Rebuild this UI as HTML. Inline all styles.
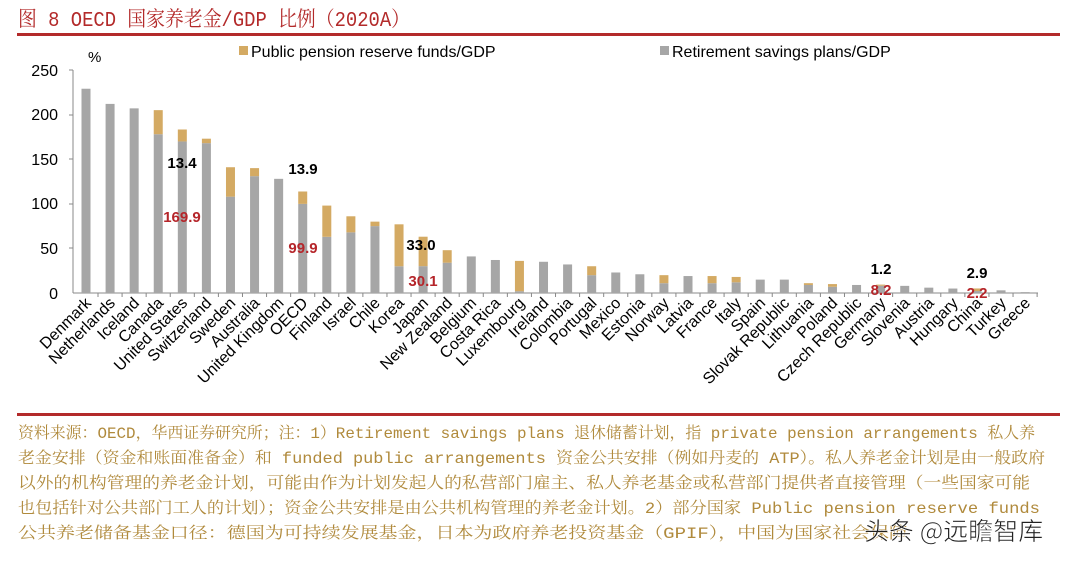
<!DOCTYPE html>
<html><head><meta charset="utf-8"><style>
html,body{margin:0;padding:0;background:#fff;}
body{width:1080px;height:557px;overflow:hidden;position:relative;}
</style></head><body>
<svg width="1080" height="557" xmlns="http://www.w3.org/2000/svg">
<text x="18" y="26" font-family="Liberation Mono, Noto Serif CJK SC, serif" font-size="21" fill="#b32a2a" textLength="392" lengthAdjust="spacingAndGlyphs">图 8  OECD 国家养老金/GDP 比例（2020A）</text>
<rect x="17" y="33" width="1043" height="3" fill="#b32a2a"/>
<g font-family="Liberation Sans, Arial, sans-serif" font-size="16" fill="#000" text-anchor="end">
<text x="58" y="76">250</text><text x="58" y="120">200</text><text x="58" y="165">150</text><text x="58" y="209">100</text><text x="58" y="254">50</text><text x="58" y="299">0</text>
</g>
<text x="88" y="62" font-family="Liberation Sans, sans-serif" font-size="15">%</text>
<line x1="73" y1="70" x2="73" y2="293" stroke="#888" stroke-width="1"/>
<g stroke="#888"><line x1="69" y1="70" x2="73" y2="70"/><line x1="69" y1="115" x2="73" y2="115"/><line x1="69" y1="159" x2="73" y2="159"/><line x1="69" y1="204" x2="73" y2="204"/><line x1="69" y1="248" x2="73" y2="248"/></g>
<line x1="73" y1="293" x2="1038" y2="293" stroke="#888"/>
<rect x="239" y="46" width="9" height="9" fill="#d4aa63"/>
<text x="251" y="57" font-family="Liberation Sans, sans-serif" font-size="16">Public pension reserve funds/GDP</text>
<rect x="660" y="46" width="9" height="9" fill="#a6a6a6"/>
<text x="672" y="57" font-family="Liberation Sans, sans-serif" font-size="16">Retirement savings plans/GDP</text>
<g id="bars"></g>
<g id="labels" font-family="Liberation Sans, Arial, sans-serif" font-size="16" fill="#000"></g>
<g font-family="Liberation Sans, Arial, sans-serif" font-size="15" font-weight="bold" text-anchor="middle">
<text x="182" y="168" fill="#000">13.4</text><text x="182" y="222" fill="#b5252a">169.9</text>
<text x="303" y="174" fill="#000">13.9</text><text x="303" y="253" fill="#b5252a">99.9</text>
<text x="421" y="250" fill="#000">33.0</text><text x="423" y="286" fill="#b5252a">30.1</text>
<text x="881" y="274" fill="#000">1.2</text><text x="881" y="295" fill="#b5252a">8.2</text>
<text x="977" y="278" fill="#000">2.9</text><text x="977" y="298" fill="#b5252a">2.2</text>
</g>
<rect x="17" y="413" width="1043" height="3" fill="#b32a2a"/>
<g font-family="Liberation Mono, Noto Serif CJK SC, serif" font-size="16" fill="#b08a3c" lengthAdjust="spacingAndGlyphs">
<text x="18" y="438" textLength="1017" lengthAdjust="spacingAndGlyphs">资料来源：OECD，华西证券研究所；注：1）Retirement savings plans 退休储蓄计划，指 private pension arrangements 私人养</text>
<text x="18" y="463" textLength="1027" lengthAdjust="spacingAndGlyphs">老金安排（资金和账面准备金）和 funded public arrangements 资金公共安排（例如丹麦的 ATP）。私人养老金计划是由一般政府</text>
<text x="18" y="488" textLength="1012" lengthAdjust="spacingAndGlyphs">以外的机构管理的养老金计划，可能由作为计划发起人的私营部门雇主、私人养老基金或私营部门提供者直接管理（一些国家可能</text>
<text x="18" y="513" textLength="1022" lengthAdjust="spacingAndGlyphs">也包括针对公共部门工人的计划）；资金公共安排是由公共机构管理的养老金计划。2）部分国家 Public pension reserve funds</text>
<text x="18" y="538" textLength="890" lengthAdjust="spacingAndGlyphs">公共养老储备基金口径：德国为可持续发展基金，日本为政府养老投资基金（GPIF），中国为国家社会保障</text>
</g>
<text x="864" y="540" font-family="Noto Sans CJK SC, sans-serif" font-size="25" fill="#222" stroke="#fff" stroke-width="0.6">头条 @远瞻智库</text>
</svg>
<script>
var d=[["Denmark",229,0],["Netherlands",212,0],["Iceland",207,0],["Canada",178,27],["United States",169.9,13.4],["Switzerland",168,5],["Sweden",108,33],["Australia",131,9],["United Kingdom",128,0],["OECD",99.9,13.9],["Finland",63,35],["Israel",68,18],["Chile",75,5],["Korea",30,47],["Japan",30.1,33],["New Zealand",34,14],["Belgium",41,0],["Costa Rica",37,0],["Luxembourg",2,34],["Ireland",35,0],["Colombia",32,0],["Portugal",20,10],["Mexico",23,0],["Estonia",21,0],["Norway",11,9],["Latvia",19,0],["France",11,8],["Italy",12,6],["Spain",15,0],["Slovak Republic",15,0],["Lithuania",9,2],["Poland",7,3],["Czech Republic",9,0],["Germany",8.2,1.2],["Slovenia",8,0],["Austria",6,0],["Hungary",5,0],["China",2.2,2.9],["Turkey",3,0],["Greece",1,0]];
var ns="http://www.w3.org/2000/svg",b=document.getElementById("bars"),l=document.getElementById("labels"),k=223/250;
function r(x,y,w,h,f){var e=document.createElementNS(ns,"rect");e.setAttribute("x",x);e.setAttribute("y",y);e.setAttribute("width",w);e.setAttribute("height",h);e.setAttribute("fill",f);b.appendChild(e);}
for(var i=0;i<d.length;i++){var c=86+i*24.08,g=d[i][1]*k,o=d[i][2]*k;
r(c-4.5,293-g,9,g,"#a6a6a6");if(o>0)r(c-4.5,293-g-o,9,o,"#d4aa63");
var t=document.createElementNS(ns,"line");t.setAttribute("x1",c+12);t.setAttribute("x2",c+12);t.setAttribute("y1",293);t.setAttribute("y2",297);t.setAttribute("stroke","#888");b.appendChild(t);
var tx=document.createElementNS(ns,"text");tx.setAttribute("text-anchor","end");tx.setAttribute("transform","translate("+(c+6)+",304) rotate(-45)");tx.textContent=d[i][0];l.appendChild(tx);}
</script>
</body></html>
